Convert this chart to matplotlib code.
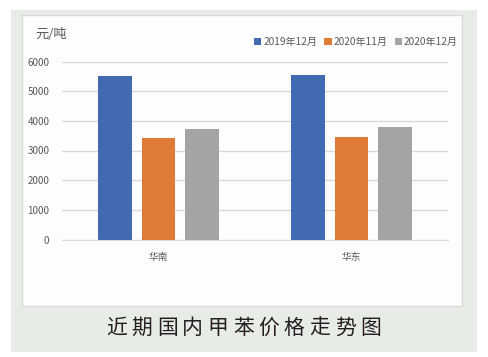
import numpy as np
import matplotlib.pyplot as plt
from matplotlib.patches import Rectangle

plt.rcParams['font.family'] = ['Noto Sans CJK SC', 'DejaVu Sans']

# data (元/吨)
regions = ['华南', '华东']
series_names = ['2019年12月', '2020年11月', '2020年12月']
dec_2019 = [5500, 5550]
nov_2020 = [3420, 3450]
dec_2020 = [3720, 3790]
colors = ['#416AB2', '#E07B37', '#A5A4A4']
title_text = '近期国内甲苯价格走势图'

W, H = 488, 357
fig = plt.figure(figsize=(W / 100, H / 100), dpi=100, facecolor='white')

# greenish panel and white chart box (pixel coords converted to figure fraction)
fig.patches.append(Rectangle((11 / W, 5 / H), 466 / W, 342 / H, transform=fig.transFigure,
                             facecolor='#E8ECE6', edgecolor='none', zorder=-2))
fig.patches.append(Rectangle((22 / W, 51 / H), 440 / W, 291 / H, transform=fig.transFigure,
                             facecolor='#FDFDFD', edgecolor='#D9D9D9', linewidth=1, zorder=-1))

ax = fig.add_axes([62 / W, 117.5 / H, 386 / W, 178 / H])
ax.set_facecolor('none')

x = np.arange(len(regions))
width = 0.176
step = 0.223
for i, (vals, name) in enumerate(zip([dec_2019, nov_2020, dec_2020], series_names)):
    ax.bar(x + (i - 1) * step, vals, width, color=colors[i], label=name, zorder=3)

ax.set_xlim(-0.5, 1.5)
ax.set_ylim(0, 6000)
ax.set_yticks(range(0, 6001, 1000))
ax.set_xticks(x)
ax.set_xticklabels(regions)
ax.grid(axis='y', color='#D9D9D9', linewidth=1, zorder=0)
for s in ['top', 'right', 'left']:
    ax.spines[s].set_visible(False)
ax.spines['bottom'].set_color('#D9D9D9')
ax.tick_params(axis='both', length=0, labelsize=7, labelcolor='#595959')
ax.tick_params(axis='y', pad=9)
ax.tick_params(axis='x', pad=9)

fig.text(35 / W, 1 - 35 / H, '元/吨', fontsize=9.5, color='#595959', va='center', ha='left')

fig.legend(loc='center', bbox_to_anchor=(356 / W, 1 - 42 / H), ncol=3, frameon=False,
           fontsize=7.3, handlelength=0.7, handleheight=0.7, handletextpad=0.2,
           columnspacing=0.7, labelcolor='#595959')

# spaced-out caption below the chart box
for i, ch in enumerate(title_text):
    fig.text((116.5 + i * 25.4) / W, 1 - 328 / H, ch, fontsize=15, color='#231F20',
             fontweight='medium', ha='center', va='center')

fig.savefig('out.png', dpi=100, facecolor='white')
